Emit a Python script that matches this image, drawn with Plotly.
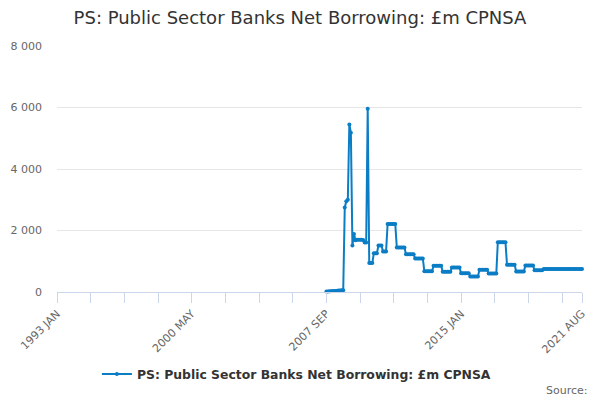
import plotly.graph_objects as go

# Axis categories: every month from 1993 JAN to 2021 AUG
month_names = ["JAN", "FEB", "MAR", "APR", "MAY", "JUN",
               "JUL", "AUG", "SEP", "OCT", "NOV", "DEC"]
categories = [f"{y} {m}" for y in range(1993, 2022) for m in month_names]
categories = categories[:categories.index("2021 AUG") + 1]

# Series starts in 2007 SEP
series_start = "2007 SEP"
values = [
    20, 20, 25, 25, 30, 35, 35, 40, 45, 50, 55, 60,
    2750, 2950, 3000, 5450, 5180, 1510, 1890, 1680, 1700, 1700, 1700, 1700,
    1690, 1610, 1610, 5960,
    940, 940, 940, 1260, 1260, 1260, 1510, 1510, 1510, 1320, 1320, 1320,
    2210, 2210, 2210, 2210, 2210, 2210,
    1450, 1450, 1450, 1450, 1450, 1450,
    1230, 1230, 1230, 1230, 1230, 1230,
    1090, 1090, 1090, 1090, 1090, 1090,
    675, 675, 675, 675, 675, 675,
    850, 850, 850, 850, 850, 850,
    655, 655, 655, 655, 655, 655,
    800, 800, 800, 800, 800, 800,
    610, 610, 610, 610, 610, 610,
    505, 505, 505, 505, 505, 505,
    720, 720, 720, 720, 720, 720,
    600, 600, 600, 600, 600, 600,
    1620, 1620, 1620, 1620, 1620, 1620,
    885, 885, 885, 885, 885, 885,
    665, 665, 665, 665, 665, 665,
    865, 865, 865, 865, 865, 865,
    710, 710, 710, 710, 710, 710,
    745, 745, 745, 745, 745, 745, 745, 745, 745, 745, 745, 745, 745,
    745, 745, 745, 745, 745, 745, 745, 745, 745, 745, 745, 745, 745,
]
start_i = categories.index(series_start)
x_months = categories[start_i:start_i + len(values)]

tick_labels = ["1993 JAN", "2000 MAY", "2007 SEP", "2015 JAN", "2021 AUG"]
tick_step = 22
tick_positions = [categories[i] for i in range(0, len(categories), tick_step)] + [categories[-1]]
tick_text = [c if c in tick_labels else "" for c in tick_positions]

y_ticks = [0, 2000, 4000, 6000, 8000]

series_name = "PS: Public Sector Banks Net Borrowing: £m CPNSA"
color = "#0b7dc5"

fig = go.Figure()
fig.add_trace(go.Scatter(
    x=x_months, y=values, mode="lines+markers", name=series_name,
    line=dict(color=color, width=2),
    marker=dict(color=color, size=4),
    cliponaxis=False,
    showlegend=True,
))

fig.update_layout(
    width=600, height=400,
    paper_bgcolor="white", plot_bgcolor="white",
    margin=dict(l=57, r=18, t=46, b=108, autoexpand=False),
    separators=". ",
    font=dict(family="DejaVu Sans", color="#666666", size=11),
    title=dict(text=series_name, x=0.5, xanchor="center", y=0.955, yanchor="middle",
               font=dict(family="DejaVu Sans", size=18, color="#333333")),
    xaxis=dict(
        type="category", categoryorder="array", categoryarray=categories,
        range=[0, len(categories) - 1], automargin=False,
        tickmode="array", tickvals=tick_positions, ticktext=tick_text,
        tickangle=-45, ticks="outside", ticklen=10, tickcolor="#ccd6eb", tickwidth=1,
        showline=True, linecolor="#ccd6eb", linewidth=1,
        showgrid=False, zeroline=False,
        tickfont=dict(size=11, color="#666666"),
    ),
    yaxis=dict(
        range=[0, 8000], tickvals=y_ticks, tickformat=",d", automargin=False,
        showgrid=True, gridcolor="#e6e6e6", gridwidth=1,
        zeroline=False, showline=False, ticks="",
        ticklabelstandoff=14,
        tickfont=dict(size=11, color="#666666"),
    ),
    legend=dict(orientation="h", x=0.456, xanchor="center", y=-0.335, yanchor="middle",
                font=dict(family="DejaVu Sans", size=12.4, color="#333333", weight="bold"),
                itemwidth=30),
    annotations=[dict(text="Source:", xref="paper", yref="paper", x=1.015, y=-0.40,
                      xanchor="right", yanchor="middle", showarrow=False,
                      font=dict(size=11, color="#666666"))],
)

fig.write_html(
    "out.html",
    config={"displayModeBar": False},
    post_script="document.body.style.margin='0';document.body.style.padding='0';",
)
